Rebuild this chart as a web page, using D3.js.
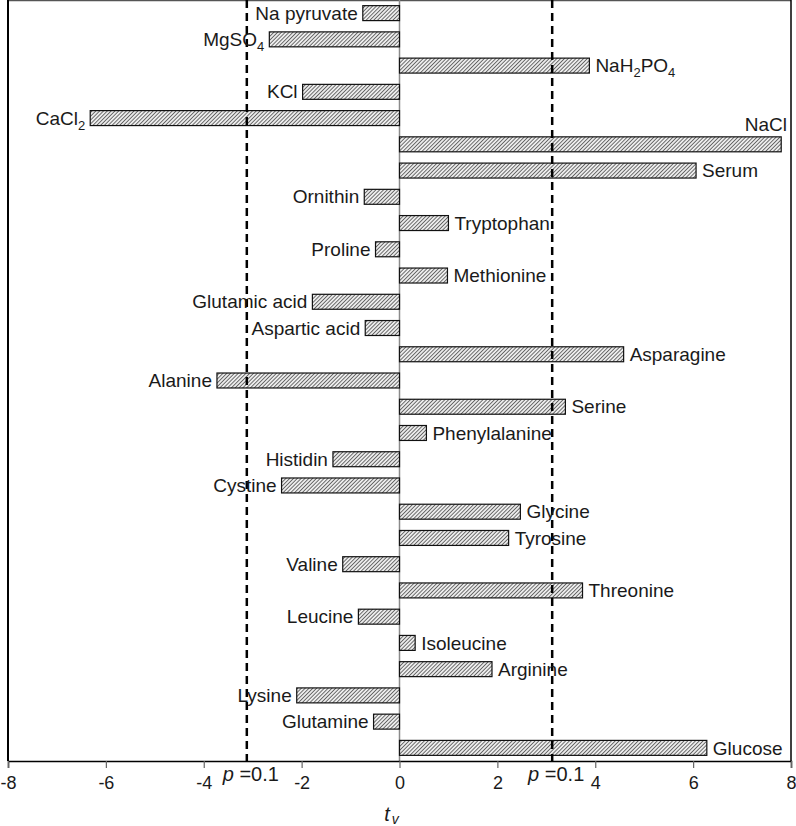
<!DOCTYPE html>
<html>
<head>
<meta charset="utf-8">
<script src="https://cdn.jsdelivr.net/npm/d3@7"></script>
<style>
  body { margin: 0; background: #fff; }
  text { font-family: "Liberation Sans", Arial, sans-serif; fill: #1a1a1a; }
</style>
</head>
<body>
<div id="chart"></div>
<script>
//categories top to bottom, digits in names get drawn as subscripts
var names = ["Na pyruvate", "MgSO4", "NaH2PO4", "KCl", "CaCl2", "NaCl", "Serum",
  "Ornithin", "Tryptophan", "Proline", "Methionine", "Glutamic acid", "Aspartic acid",
  "Asparagine", "Alanine", "Serine", "Phenylalanine", "Histidin", "Cystine", "Glycine",
  "Tyrosine", "Valine", "Threonine", "Leucine", "Isoleucine", "Arginine", "Lysine",
  "Glutamine", "Glucose"];

//t values
var tValues = [-0.75, -2.66, 3.88, -1.98, -6.32, 7.80, 6.06,
  -0.72, 1.00, -0.49, 0.98, -1.78, -0.70,
  4.58, -3.73, 3.39, 0.55, -1.36, -2.41, 2.47,
  2.23, -1.16, 3.74, -0.84, 0.32, 1.89, -2.10,
  -0.53, 6.28];

//x axis ticks and the p = 0.1 threshold
var xTicks = [-8, -6, -4, -2, 0, 2, 4, 6, 8];
var pCrit = [-3.12, 3.12];

var svgWidth = 796, svgHeight = 826;
var margin = { top: 0, right: 5, bottom: 65, left: 8 };
var plotBottom = svgHeight - margin.bottom;   // 761
var plotRight = svgWidth - margin.right;      // 791

var data = names.map((n, i) => ({ name: n, v: tValues[i] }));

var svg = d3.select("#chart").append("svg")
  .attr("width", svgWidth)
  .attr("height", svgHeight);

//hatch pattern for the bars
var hs = 2.7;
var defs = svg.append("defs");
var pat = defs.append("pattern")
  .attr("id", "hatch")
  .attr("patternUnits", "userSpaceOnUse")
  .attr("width", hs).attr("height", hs)
  .attr("patternTransform", "rotate(45)");
pat.append("rect").attr("width", hs).attr("height", hs).attr("fill", "#ececec");
pat.append("line")
  .attr("x1", 0).attr("y1", 0).attr("x2", 0).attr("y2", hs)
  .attr("stroke", "#3a3a3a").attr("stroke-width", 1.4);

var xScale = d3.scaleLinear().domain([-8, 8]).range([margin.left, plotRight]);
var yScale = d3.scaleBand().domain(names)
  .range([margin.top, plotBottom])
  .paddingInner(0.43).paddingOuter(0.215);

//frame: top, left, right
svg.append("line").attr("x1", margin.left).attr("x2", plotRight)
  .attr("y1", 0.5).attr("y2", 0.5).attr("stroke", "#555").attr("stroke-width", 1.5);
svg.append("line").attr("x1", margin.left).attr("x2", margin.left)
  .attr("y1", 0).attr("y2", plotBottom).attr("stroke", "#000").attr("stroke-width", 2);
svg.append("line").attr("x1", plotRight).attr("x2", plotRight)
  .attr("y1", 0).attr("y2", plotBottom).attr("stroke", "#000").attr("stroke-width", 1.5);

//zero line
svg.append("line").attr("x1", xScale(0)).attr("x2", xScale(0))
  .attr("y1", 0).attr("y2", plotBottom).attr("stroke", "#8a8a8a").attr("stroke-width", 1.5);

//bars
svg.selectAll("rect.bar")
  .data(data)
  .enter().append("rect").attr("class", "bar")
  .attr("x", d => xScale(Math.min(0, d.v)))
  .attr("width", d => Math.abs(xScale(d.v) - xScale(0)))
  .attr("y", d => yScale(d.name))
  .attr("height", yScale.bandwidth())
  .attr("fill", "url(#hatch)")
  .attr("stroke", "#111")
  .attr("stroke-width", 1.2);

//dashed p = 0.1 lines
svg.selectAll("line.crit")
  .data(pCrit)
  .enter().append("line").attr("class", "crit")
  .attr("x1", d => xScale(d)).attr("x2", d => xScale(d))
  .attr("y1", 0).attr("y2", plotBottom)
  .attr("stroke", "#000").attr("stroke-width", 2.5)
  .attr("stroke-dasharray", "8,5");

//bar labels
function addName(sel, name) {
  //split into plain runs and digit runs (subscripts)
  var parts = name.match(/\d+|\D+/g);
  var shifted = false;
  parts.forEach(p => {
    var isSub = /\d/.test(p);
    var t = sel.append("tspan").text(p);
    if (isSub) {
      t.attr("font-size", 13).attr("dy", 5);
      shifted = true;
    } else if (shifted) {
      t.attr("dy", -5);
      shifted = false;
    }
  });
}

var labels = svg.selectAll("text.lab")
  .data(data)
  .enter().append("text").attr("class", "lab")
  .attr("font-size", 19)
  .attr("dy", "0.35em")
  .each(function(d) { addName(d3.select(this), d.name); });

labels.each(function(d) {
  var t = d3.select(this);
  var cy = yScale(d.name) + yScale.bandwidth() / 2;
  if (d.v < 0) {
    t.attr("text-anchor", "end").attr("x", xScale(d.v) - 5).attr("y", cy);
  } else {
    var w = this.getComputedTextLength();
    if (xScale(d.v) + 6 + w > plotRight) {
      //no room on the right: put it above the bar, right aligned
      t.attr("text-anchor", "end").attr("x", plotRight - 4).attr("y", cy - 20);
    } else {
      t.attr("text-anchor", "start").attr("x", xScale(d.v) + 6).attr("y", cy);
    }
  }
});

//x axis
var xAxis = d3.axisBottom(xScale).tickValues(xTicks).tickSize(7).tickPadding(8)
  .tickFormat(d3.format("d"));
var gx = svg.append("g")
  .attr("transform", `translate(0, ${plotBottom})`)
  .call(xAxis);
gx.select(".domain").attr("stroke", "#000").attr("stroke-width", 1.5);
gx.selectAll(".tick line").attr("stroke", "#666").attr("stroke-width", 1.2);
gx.selectAll(".tick text")
  .attr("font-family", "Liberation Sans, Arial, sans-serif")
  .attr("font-size", 18).attr("fill", "#1a1a1a")
  .text(d => d < 0 ? "-" + Math.abs(d) : d);

//p = 0.1 labels under the dashed lines
var pl = svg.selectAll("text.plab")
  .data(pCrit)
  .enter().append("text").attr("class", "plab")
  .attr("x", d => xScale(d) + 4)
  .attr("y", plotBottom + 20)
  .attr("text-anchor", "middle")
  .attr("font-size", 20);
pl.append("tspan").attr("font-style", "italic").text("p");
pl.append("tspan").text(" =0.1");

//axis title t_v
var xt = svg.append("text")
  .attr("x", xScale(0) - 8)
  .attr("y", svgHeight - 5)
  .attr("text-anchor", "middle")
  .attr("font-size", 20)
  .attr("font-style", "italic");
xt.append("tspan").text("t");
xt.append("tspan").attr("font-size", 14).attr("dy", 3).attr("dx", 2).text("v");
</script>
</body>
</html>
